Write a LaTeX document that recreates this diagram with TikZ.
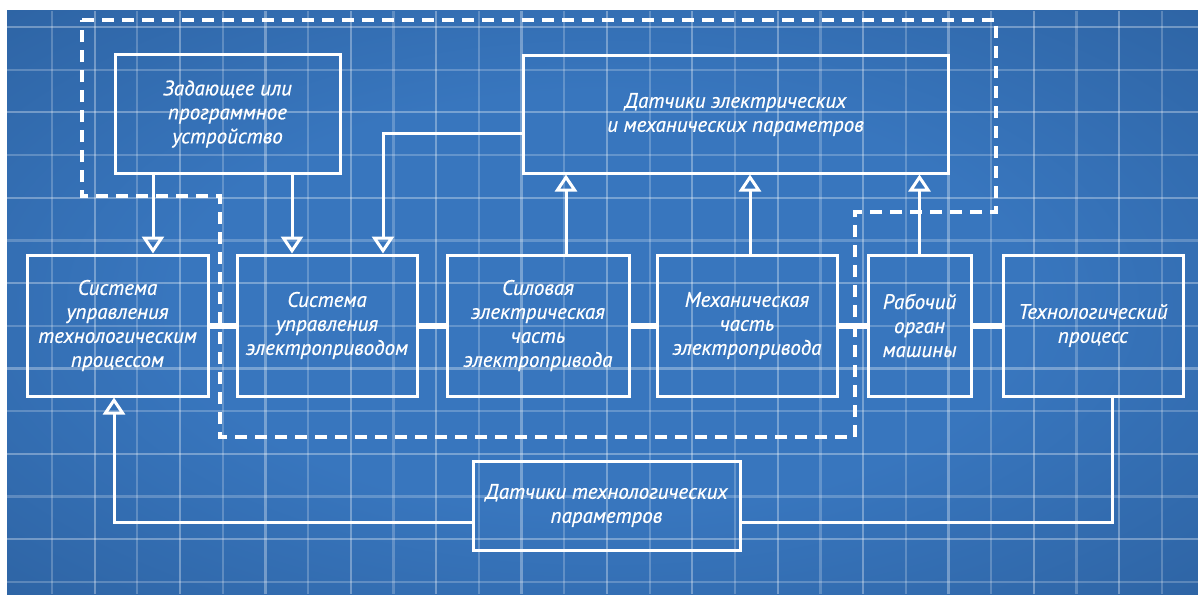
\documentclass[tikz,border=0pt]{standalone}
\usepackage{fontspec}
\setmainfont{PT Sans}[ItalicFeatures={FakeBold=0.6}]
\usetikzlibrary{arrows.meta,calc}
\definecolor{bgin}{RGB}{56,118,190}
\definecolor{bgout}{RGB}{38,86,144}
\pgfdeclareradialshading{vign}{\pgfpoint{0bp}{0bp}}{color(0bp)=(bgin); color(18bp)=(bgin); color(50bp)=(bgout); color(72bp)=(bgout)}
\tikzset{
  blk/.style={draw=white, line width=3pt, inner sep=0pt, align=center, text=white,
    font=\fontsize{21}{24}\selectfont\itshape},
  conn/.style={draw=white, line width=3pt, -{Triangle[open, width=22pt, length=17pt]}},
  plain/.style={draw=white, line width=3pt},
  thick link/.style={draw=white, line width=6pt},
  dashbound/.style={draw=white, line width=4pt, dash pattern=on 12pt off 8pt},
  gridminor/.style={draw=white, opacity=0.22, line width=2.2pt},
  gridmajor/.style={draw=white, opacity=0.32, line width=2.2pt}
}
\begin{document}
\begin{tikzpicture}[x=1pt, y=-1pt]
\useasboundingbox (0,0) rectangle (1198,594);
\fill[white] (0,0) rectangle (1198,594);
\shade[shading=vign] (7,11) rectangle (1198,594);
% grid
\foreach \k in {0,...,26} {
  \pgfmathsetmacro{\gx}{52+42.69*\k}
  \ifodd\k \draw[gridmajor] (\gx,11) -- (\gx,594); \else \draw[gridminor] (\gx,11) -- (\gx,594); \fi
}
\foreach \j in {0,...,13} {
  \pgfmathsetmacro{\gy}{27+42.69*\j}
  \ifodd\j \draw[gridminor] (7,\gy) -- (1198,\gy); \else \draw[gridmajor] (7,\gy) -- (1198,\gy); \fi
}
% dashed boundary
\draw[dashbound] (82,20) -- (996,20) -- (996,212) -- (855,212) -- (855,437) -- (220,437) -- (220,196) -- (82,196) -- cycle;
% blocks
\node[blk, minimum width=225pt, minimum height=118pt] (zad) at (227.5,114) {Задающее или\\программное\\устройство};
\node[blk, minimum width=425pt, minimum height=117pt] (dat1) at (735.5,114.5) {Датчики электрических\\и механических параметров};
\node[blk, minimum width=181pt, minimum height=141pt] (b1) at (117.5,325.5) {Система\\управления\\технологическим\\процессом};
\node[blk, minimum width=180pt, minimum height=141pt] (b2) at (327,325.5) {Система\\управления\\электроприводом};
\node[blk, minimum width=182pt, minimum height=141pt] (b3) at (538,325.5) {Силовая\\электрическая\\часть\\электропривода};
\node[blk, minimum width=180pt, minimum height=141pt] (b4) at (747,325.5) {Механическая\\часть\\электропривода};
\node[blk, minimum width=103pt, minimum height=141pt] (b5) at (919.5,325.5) {Рабочий\\орган\\машины};
\node[blk, minimum width=180pt, minimum height=141pt] (b6) at (1093,325.5) {Технологический\\процесс};
\node[blk, minimum width=267pt, minimum height=89pt] (bot) at (606.5,505.5) {Датчики технологических\\параметров};
% helper coordinates
\coordinate (xa) at (153,0);
\coordinate (xb) at (292,0);
\coordinate (xc) at (383,133);
\coordinate (xd) at (566,0);
\coordinate (xe) at (750,0);
\coordinate (xf) at (1112,522);
\coordinate (xg) at (114,522);
% thick links
\draw[thick link] (b1.east) -- (b2.west);
\draw[thick link] (b2.east) -- (b3.west);
\draw[thick link] (b3.east) -- (b4.west);
\draw[thick link] (b4.east) -- (b5.west);
\draw[thick link] (b5.east) -- (b6.west);
% arrows
\draw[conn] (zad.south -| xa) -- (b1.north -| xa);
\draw[conn] (zad.south -| xb) -- (b2.north -| xb);
\draw[conn] (dat1.west |- xc) -| (b2.north -| xc);
\draw[conn] (b3.north -| xd) -- (dat1.south -| xd);
\draw[conn] (b4.north -| xe) -- (dat1.south -| xe);
\draw[conn] (b5.north) -- (dat1.south -| b5.north);
\draw[plain] (b6.south -| xf) |- (bot.east |- xf);
\draw[conn] (bot.west |- xg) -| (b1.south -| xg);
\end{tikzpicture}
\end{document}
